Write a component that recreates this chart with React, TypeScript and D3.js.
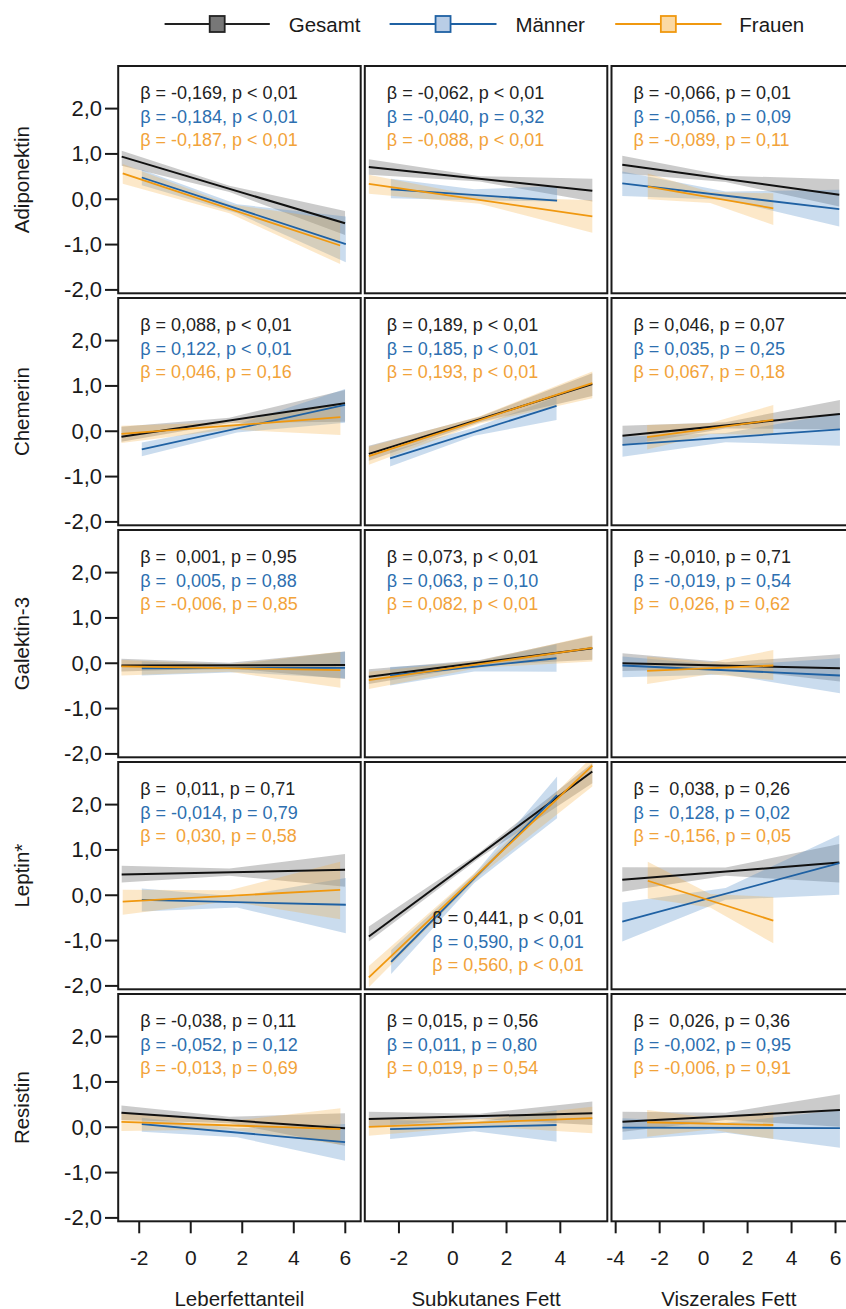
import React from 'react';
import * as d3 from 'd3';

// ---------- DATA ----------
const rowLabels = ['Adiponektin', 'Chemerin', 'Galektin-3', 'Leptin*', 'Resistin'];
const colLabels = ['Leberfettanteil', 'Subkutanes Fett', 'Viszerales Fett'];
const groupNames = ['Gesamt', 'Männer', 'Frauen'];
const xTicks = [[-2, 0, 2, 4, 6], [-2, 0, 2, 4], [-4, -2, 0, 2, 4, 6]];
const xDomains = [[-2.816, 6.598], [-3.27, 5.747], [-4.19, 6.84]];
const yTicks = [-2, -1, 0, 1, 2];
const yTickLabels = ['-2,0', '-1,0', '0,0', '1,0', '2,0'];
const yDomain = [-2.075, 2.94];

// line: [x0, y0, x1, y1] per panel (row-major: row*3+col)
const gesamtLines = [
  [-2.68, 0.94, 5.99, -0.53], [-3.12, 0.71, 5.19, 0.19], [-3.70, 0.76, 6.17, 0.10],
  [-2.69, -0.12, 5.99, 0.62], [-3.12, -0.50, 5.19, 1.04], [-3.69, -0.10, 6.20, 0.38],
  [-2.69, -0.05, 5.99, -0.04], [-3.12, -0.30, 5.19, 0.33], [-3.69, 0.00, 6.20, -0.11],
  [-2.68, 0.46, 5.99, 0.56], [-3.12, -0.91, 5.19, 2.73], [-3.70, 0.34, 6.17, 0.72],
  [-2.69, 0.32, 5.99, -0.02], [-3.12, 0.18, 5.19, 0.31], [-3.69, 0.12, 6.20, 0.38],
];
const maennerLines = [
  [-1.90, 0.48, 6.02, -0.99], [-2.30, 0.22, 3.88, -0.03], [-3.70, 0.35, 6.17, -0.22],
  [-1.90, -0.40, 5.99, 0.58], [-2.33, -0.60, 3.86, 0.56], [-3.69, -0.30, 6.20, 0.04],
  [-1.90, -0.11, 5.99, -0.10], [-2.33, -0.27, 3.86, 0.11], [-3.69, -0.05, 6.20, -0.27],
  [-1.90, -0.10, 6.02, -0.21], [-2.29, -1.47, 3.88, 2.21], [-3.70, -0.58, 6.17, 0.71],
  [-1.90, 0.07, 5.99, -0.33], [-2.33, -0.04, 3.86, 0.05], [-3.69, -0.01, 6.20, -0.02],
];
const frauenLines = [
  [-2.64, 0.57, 5.80, -1.02], [-3.12, 0.34, 5.19, -0.38], [-2.54, 0.28, 3.17, -0.20],
  [-2.69, -0.06, 5.81, 0.31], [-3.12, -0.55, 5.19, 1.06], [-2.57, -0.13, 3.17, 0.25],
  [-2.69, -0.07, 5.81, -0.15], [-3.12, -0.37, 5.19, 0.34], [-2.57, -0.17, 3.17, -0.05],
  [-2.64, -0.14, 5.80, 0.12], [-3.12, -1.81, 5.19, 2.86], [-2.54, 0.32, 3.17, -0.56],
  [-2.69, 0.12, 5.81, -0.04], [-3.12, 0.01, 5.19, 0.20], [-2.57, 0.11, 3.17, 0.05],
];

// band: [x0, lo0, hi0, xm, lom, him, x1, lo1, hi1]
const gesamtBands = [
  [-2.68, 0.74, 1.07, 1.5, 0.16, 0.30, 5.99, -0.79, -0.26],
  [-3.12, 0.54, 0.88, 1.0, 0.39, 0.51, 5.19, -0.05, 0.45],
  [-3.70, 0.57, 0.96, 1.0, 0.38, 0.52, 6.17, -0.16, 0.44],
  [-2.69, -0.23, 0.10, 1.5, 0.18, 0.30, 5.99, 0.21, 0.91],
  [-3.12, -0.65, -0.32, 1.0, 0.20, 0.32, 5.19, 0.78, 1.28],
  [-3.69, -0.32, 0.12, 1.0, 0.06, 0.20, 6.20, 0.04, 0.69],
  [-2.69, -0.18, 0.10, 1.5, -0.11, 0.01, 5.99, -0.35, 0.26],
  [-3.12, -0.46, -0.13, 1.0, -0.05, 0.07, 5.19, 0.08, 0.60],
  [-3.69, -0.17, 0.22, 1.0, -0.12, 0.02, 6.20, -0.40, 0.20],
  [-2.68, 0.28, 0.65, 1.5, 0.43, 0.59, 5.99, 0.19, 0.91],
  [-3.12, -1.02, -0.69, 1.0, 0.83, 0.95, 5.19, 2.47, 2.91],
  [-3.70, 0.08, 0.62, 1.0, 0.43, 0.61, 6.17, 0.28, 1.13],
  [-2.69, 0.16, 0.48, 1.5, 0.09, 0.23, 5.99, -0.41, 0.31],
  [-3.12, 0.01, 0.34, 1.0, 0.18, 0.30, 5.19, 0.05, 0.57],
  [-3.69, -0.10, 0.34, 1.0, 0.16, 0.32, 6.20, 0.01, 0.73],
];
const maennerBands = [
  [-1.90, 0.31, 0.65, 1.8, -0.31, -0.11, 6.02, -1.39, -0.38],
  [-2.30, 0.02, 0.45, 0.8, -0.02, 0.22, 3.88, -0.05, 0.29],
  [-3.70, 0.07, 0.61, 1.0, -0.01, 0.17, 6.17, -0.60, 0.21],
  [-1.90, -0.55, -0.25, 1.8, -0.03, 0.15, 5.99, 0.19, 0.93],
  [-2.33, -0.78, -0.43, 0.8, -0.10, 0.08, 3.86, 0.25, 0.76],
  [-3.69, -0.56, -0.12, 1.0, -0.24, -0.04, 6.20, -0.32, 0.40],
  [-1.90, -0.27, 0.04, 1.8, -0.20, -0.02, 5.99, -0.33, 0.26],
  [-2.33, -0.49, -0.08, 0.8, -0.18, 0.02, 3.86, -0.19, 0.42],
  [-3.69, -0.31, 0.15, 1.0, -0.25, -0.05, 6.20, -0.66, 0.11],
  [-1.90, -0.36, 0.15, 1.8, -0.27, -0.03, 6.02, -0.84, 0.38],
  [-2.29, -1.74, -1.21, 0.8, 0.27, 0.47, 3.88, 1.70, 2.62],
  [-3.70, -1.02, -0.16, 1.0, -0.10, 0.16, 6.17, 0.01, 1.33],
  [-1.90, -0.10, 0.21, 1.8, -0.22, -0.02, 5.99, -0.74, 0.07],
  [-2.33, -0.26, 0.16, 0.8, -0.09, 0.11, 3.86, -0.32, 0.38],
  [-3.69, -0.28, 0.20, 1.0, -0.12, 0.10, 6.20, -0.45, 0.38],
];
const frauenBands = [
  [-2.64, 0.34, 0.78, 1.5, -0.31, -0.11, 5.80, -1.43, -0.46],
  [-3.12, 0.12, 0.54, 1.0, -0.10, 0.06, 5.19, -0.74, -0.02],
  [-2.54, 0.00, 0.57, 0.3, -0.08, 0.16, 3.17, -0.57, 0.13],
  [-2.69, -0.26, 0.12, 1.5, 0.04, 0.20, 5.81, -0.08, 0.62],
  [-3.12, -0.74, -0.34, 1.0, 0.17, 0.33, 5.19, 0.73, 1.32],
  [-2.57, -0.40, 0.14, 0.3, -0.06, 0.18, 3.17, -0.08, 0.58],
  [-2.69, -0.27, 0.07, 1.5, -0.19, -0.03, 5.81, -0.54, 0.26],
  [-3.12, -0.57, -0.19, 1.0, -0.10, 0.06, 5.19, 0.04, 0.62],
  [-2.57, -0.46, 0.15, 0.3, -0.24, 0.02, 3.17, -0.37, 0.29],
  [-2.64, -0.43, 0.12, 1.5, -0.13, 0.11, 5.80, -0.53, 0.74],
  [-3.12, -2.03, -1.56, 1.0, 0.43, 0.59, 5.19, 2.40, 3.06],
  [-2.54, -0.07, 0.74, 0.3, -0.27, 0.03, 3.17, -1.06, -0.04],
  [-2.69, -0.08, 0.31, 1.5, -0.05, 0.13, 5.81, -0.38, 0.42],
  [-3.12, -0.19, 0.21, 1.0, 0.02, 0.18, 5.19, -0.13, 0.45],
  [-2.57, -0.21, 0.38, 0.3, -0.05, 0.21, 3.17, -0.26, 0.34],
];

const gesamtText = [
  'β = -0,169, p < 0,01', 'β = -0,062, p < 0,01', 'β = -0,066, p = 0,01',
  'β = 0,088, p < 0,01', 'β = 0,189, p < 0,01', 'β = 0,046, p = 0,07',
  'β =  0,001, p = 0,95', 'β = 0,073, p < 0,01', 'β = -0,010, p = 0,71',
  'β =  0,011, p = 0,71', 'β = 0,441, p < 0,01', 'β =  0,038, p = 0,26',
  'β = -0,038, p = 0,11', 'β = 0,015, p = 0,56', 'β =  0,026, p = 0,36',
];
const maennerText = [
  'β = -0,184, p < 0,01', 'β = -0,040, p = 0,32', 'β = -0,056, p = 0,09',
  'β = 0,122, p < 0,01', 'β = 0,185, p < 0,01', 'β = 0,035, p = 0,25',
  'β =  0,005, p = 0,88', 'β = 0,063, p = 0,10', 'β = -0,019, p = 0,54',
  'β = -0,014, p = 0,79', 'β = 0,590, p < 0,01', 'β =  0,128, p = 0,02',
  'β = -0,052, p = 0,12', 'β = 0,011, p = 0,80', 'β = -0,002, p = 0,95',
];
const frauenText = [
  'β = -0,187, p < 0,01', 'β = -0,088, p < 0,01', 'β = -0,089, p = 0,11',
  'β = 0,046, p = 0,16', 'β = 0,193, p < 0,01', 'β = 0,067, p = 0,18',
  'β = -0,006, p = 0,85', 'β = 0,082, p < 0,01', 'β =  0,026, p = 0,62',
  'β =  0,030, p = 0,58', 'β = 0,560, p < 0,01', 'β = -0,156, p = 0,05',
  'β = -0,013, p = 0,69', 'β = 0,019, p = 0,54', 'β = -0,006, p = 0,91',
];

// ---------- STYLE / LAYOUT ----------
const W = 846, H = 1309;
const FONT = '"Liberation Sans", Arial, Helvetica, sans-serif';
const colLeft = [118.2, 364.8, 611.5];
const panelW = 242.5;
const rowTop0 = 66, rowPitch = 232, panelH = 227.3;
const lineColors = ['#111111', '#1f61a3', '#f0980f'];
const textColors = ['#222222', '#2d6fb0', '#f2a33a'];
const bandColors = ['rgba(110,110,110,0.36)', 'rgba(80,140,200,0.30)', 'rgba(245,172,60,0.28)'];
const legendFill = ['#777777', '#b9cde6', '#fbd9a3'];
const legendStroke = ['#222222', '#1f61a3', '#f0980f'];
const legendLineX = [[164.6, 269.8], [389.6, 496.5], [615.2, 721.5]];
const legendTextX = [288.7, 515.4, 739.3];
const annotBottomRight = new Set([10]);

const allLines = [gesamtLines, maennerLines, frauenLines];
const allBands = [gesamtBands, maennerBands, frauenBands];
const allTexts = [gesamtText, maennerText, frauenText];

export default function App() {
  const panels: React.ReactNode[] = [];
  for (let r = 0; r < rowLabels.length; r++) {
    for (let c = 0; c < colLabels.length; c++) {
      const p = r * 3 + c;
      const top = rowTop0 + r * rowPitch;
      const left = colLeft[c];
      const x = d3.scaleLinear().domain(xDomains[c]).range([left, left + panelW]);
      const y = d3.scaleLinear().domain(yDomain).range([top + panelH, top]);
      const area = d3.area<number[]>().x(d => x(d[0])).y0(d => y(d[1])).y1(d => y(d[2]));
      const line = d3.line<number[]>().x(d => x(d[0])).y(d => y(d[1]));
      const clipId = `clip-${p}`;
      const bandEls = [0, 1, 2].map(g => {
        const b = allBands[g][p];
        const pts = [[b[0], b[1], b[2]], [b[3], b[4], b[5]], [b[6], b[7], b[8]]];
        return <path key={'b' + g} d={area(pts) || ''} fill={bandColors[g]} stroke="none" />;
      });
      const lineEls = [0, 1, 2].map(g => {
        const l = allLines[g][p];
        return (
          <path key={'l' + g} d={line([[l[0], l[1]], [l[2], l[3]]]) || ''} fill="none"
            stroke={lineColors[g]} strokeWidth={g === 0 ? 2 : 1.8} />
        );
      });
      const br = annotBottomRight.has(p);
      const tx = br ? left + 67.5 : left + 22;
      const ty0 = br ? top + 156.3 : top + 27.3;
      const texts = [0, 1, 2].map(g => (
        <text key={'t' + g} x={tx} y={ty0 + g * 23.4} dominantBaseline="central"
          fontSize={18} fill={textColors[g]} style={{ whiteSpace: 'pre' }}>
          {allTexts[g][p]}
        </text>
      ));
      panels.push(
        <g key={p}>
          <defs>
            <clipPath id={clipId}>
              <rect x={left} y={top} width={panelW} height={panelH} />
            </clipPath>
          </defs>
          <g clipPath={`url(#${clipId})`}>
            {bandEls}
            {lineEls}
          </g>
          {texts}
          <rect x={left} y={top} width={panelW} height={panelH} fill="none" stroke="#1a1a1a" strokeWidth={2} />
        </g>
      );
      // y axis on first column
      if (c === 0) {
        panels.push(
          <g key={'ya' + r}>
            {yTicks.map((t, i) => (
              <g key={t}>
                <line x1={105} x2={118} y1={y(t)} y2={y(t)} stroke="#1a1a1a" strokeWidth={2} />
                <text x={102} y={y(t)} textAnchor="end" dominantBaseline="central" fontSize={22} fill="#1a1a1a">
                  {yTickLabels[i]}
                </text>
              </g>
            ))}
            <text transform={`translate(21,${top + panelH / 2}) rotate(-90)`} textAnchor="middle"
              dominantBaseline="central" fontSize={20.5} fill="#1a1a1a">
              {rowLabels[r]}
            </text>
          </g>
        );
      }
      // x axis on last row
      if (r === rowLabels.length - 1) {
        const bottom = top + panelH;
        panels.push(
          <g key={'xa' + c}>
            {xTicks[c].map(t => (
              <g key={t}>
                <line x1={x(t)} x2={x(t)} y1={bottom} y2={bottom + 12} stroke="#1a1a1a" strokeWidth={2} />
                <text x={x(t)} y={bottom + 36} textAnchor="middle" dominantBaseline="central" fontSize={21} fill="#1a1a1a">
                  {String(t)}
                </text>
              </g>
            ))}
            <text x={left + panelW / 2 - (c === 2 ? 4 : 0)} y={bottom + 77} textAnchor="middle"
              dominantBaseline="central" fontSize={20.5} fill="#1a1a1a">
              {colLabels[c]}
            </text>
          </g>
        );
      }
    }
  }

  const legend = groupNames.map((name, g) => {
    const [lx0, lx1] = legendLineX[g];
    const cx = (lx0 + lx1) / 2;
    return (
      <g key={name}>
        <line x1={lx0} x2={lx1} y1={24} y2={24} stroke={legendStroke[g]} strokeWidth={2} />
        <rect x={cx - 7.5} y={16} width={15} height={16} fill={legendFill[g]} stroke={legendStroke[g]} strokeWidth={1.8} />
        <text x={legendTextX[g]} y={24} dominantBaseline="central" fontSize={20.5} fill="#1a1a1a">{name}</text>
      </g>
    );
  });

  return (
    <svg width={W} height={H} viewBox={`0 0 ${W} ${H}`}
      style={{ position: 'absolute', left: 0, top: 0, background: '#fff', fontFamily: FONT }}>
      <rect x={0} y={0} width={W} height={H} fill="#fff" />
      {legend}
      {panels}
    </svg>
  );
}
